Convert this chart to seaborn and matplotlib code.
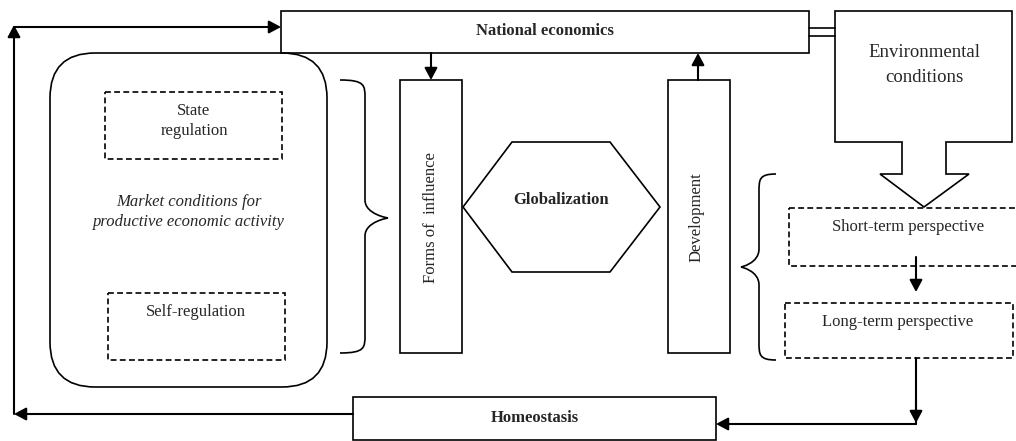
import matplotlib
matplotlib.use("Agg")
import matplotlib.pyplot as plt
import seaborn as sns
from matplotlib.patches import Rectangle, Polygon, FancyBboxPatch, PathPatch
from matplotlib.path import Path

# labels
top_label = "National economics"
bottom_label = "Homeostasis"
env_label = "Environmental\nconditions"
centre_label = "Globalization"
left_column = "Forms of  influence"
right_column = "Development"
market_label = "Market conditions for\nproductive economic activity"
inner_boxes = ["State\nregulation", "Self-regulation"]
perspectives = ["Short-term perspective", "Long-term perspective"]

sns.set_theme(style="white")
plt.rcParams["font.family"] = ["Liberation Serif", "DejaVu Serif"]

fig = plt.figure(figsize=(10.16, 4.41), dpi=100)
ax = fig.add_axes([0, 0, 1, 1])
ax.set_xlim(0, 1016)
ax.set_ylim(441, 0)
ax.axis("off")

lw = 1.2
K = "black"


def box(x0, y0, x1, y1, dashed=False):
    ax.add_patch(Rectangle((x0, y0), x1 - x0, y1 - y0, fill=False, ec=K, lw=lw,
                           ls=(0, (3.5, 2)) if dashed else "-"))


def arrow(x0, y0, x1, y1):
    ax.annotate("", xy=(x1, y1), xytext=(x0, y0),
                arrowprops=dict(arrowstyle="-|>,head_length=0.6,head_width=0.32",
                                color=K, lw=1.5, shrinkA=0, shrinkB=0))


def brace(x_out, x_mid, x_tip, y0, y1, ym, r=18):
    verts = [(x_out, y0),
             (x_mid, y0), (x_mid, y0 + r * 0.3), (x_mid, y0 + r),
             (x_mid, ym - r),
             (x_mid, ym - r * 0.2), (x_tip, ym), (x_tip, ym),
             (x_tip, ym), (x_mid, ym + r * 0.2), (x_mid, ym + r),
             (x_mid, y1 - r),
             (x_mid, y1 - r * 0.3), (x_mid, y1), (x_out, y1)]
    codes = [Path.MOVETO] + [Path.CURVE4] * 3 + [Path.LINETO] + [Path.CURVE4] * 6 + \
            [Path.LINETO] + [Path.CURVE4] * 3
    ax.add_patch(PathPatch(Path(verts, codes), fill=False, ec=K, lw=lw))


# top and bottom boxes
box(281, 11, 809, 53)
ax.text(545, 31, top_label, ha="center", va="center", fontsize=12, fontweight="bold")
box(353, 397, 716, 440)
ax.text(535, 418, bottom_label, ha="center", va="center", fontsize=12, fontweight="bold")

# double connector to environmental conditions
ax.plot([809, 835], [28, 28], color=K, lw=lw)
ax.plot([809, 835], [36, 36], color=K, lw=lw)

env = [(835, 11), (1012, 11), (1012, 142), (946, 142), (946, 174), (969, 174),
       (924, 207), (880, 174), (902, 174), (902, 142), (835, 142)]
ax.add_patch(Polygon(env, closed=True, fill=False, ec=K, lw=lw))
ax.text(924, 65, env_label, ha="center", va="center", fontsize=13.5, linespacing=1.55)

# market conditions block
ax.add_patch(FancyBboxPatch((50, 53), 277, 334, boxstyle="round,pad=0,rounding_size=45",
                            fill=False, ec=K, lw=lw))
box(105, 92, 282, 159, dashed=True)
ax.text(194, 121, inner_boxes[0], ha="center", va="center", fontsize=12, linespacing=1.4)
box(108, 293, 285, 360, dashed=True)
ax.text(196, 312, inner_boxes[1], ha="center", va="center", fontsize=12)
ax.text(189, 212, market_label, ha="center", va="center", fontsize=12,
        style="italic", linespacing=1.4)

brace(340, 365, 388, 80, 353, 218)

# columns and hexagon
box(400, 80, 462, 353)
ax.text(431, 218, left_column, ha="center", va="center", fontsize=12, rotation=90)
arrow(431, 53, 431, 80)
box(668, 80, 730, 353)
ax.text(697, 217, right_column, ha="center", va="center", fontsize=12, rotation=90)
arrow(698, 80, 698, 53)

hexagon = [(463, 207), (512, 142), (610, 142), (660, 207), (610, 272), (512, 272)]
ax.add_patch(Polygon(hexagon, closed=True, fill=False, ec=K, lw=lw))
ax.text(561, 200, centre_label, ha="center", va="center", fontsize=12, fontweight="bold")

# perspectives
brace(776, 759, 741, 174, 360, 267)
box(789, 208, 1030, 266, dashed=True)
ax.text(908, 227, perspectives[0], ha="center", va="center", fontsize=12)
arrow(916, 257, 916, 292)
box(785, 303, 1013, 358, dashed=True)
ax.text(898, 322, perspectives[1], ha="center", va="center", fontsize=12)

# feedback loops
ax.plot([916, 916], [358, 424], color=K, lw=1.5)
arrow(916, 400, 916, 423)
arrow(916, 424, 716, 424)
arrow(353, 414, 14, 414)
arrow(14, 414, 14, 25)
arrow(14, 27, 281, 27)

fig.savefig("out.png", dpi=100)
